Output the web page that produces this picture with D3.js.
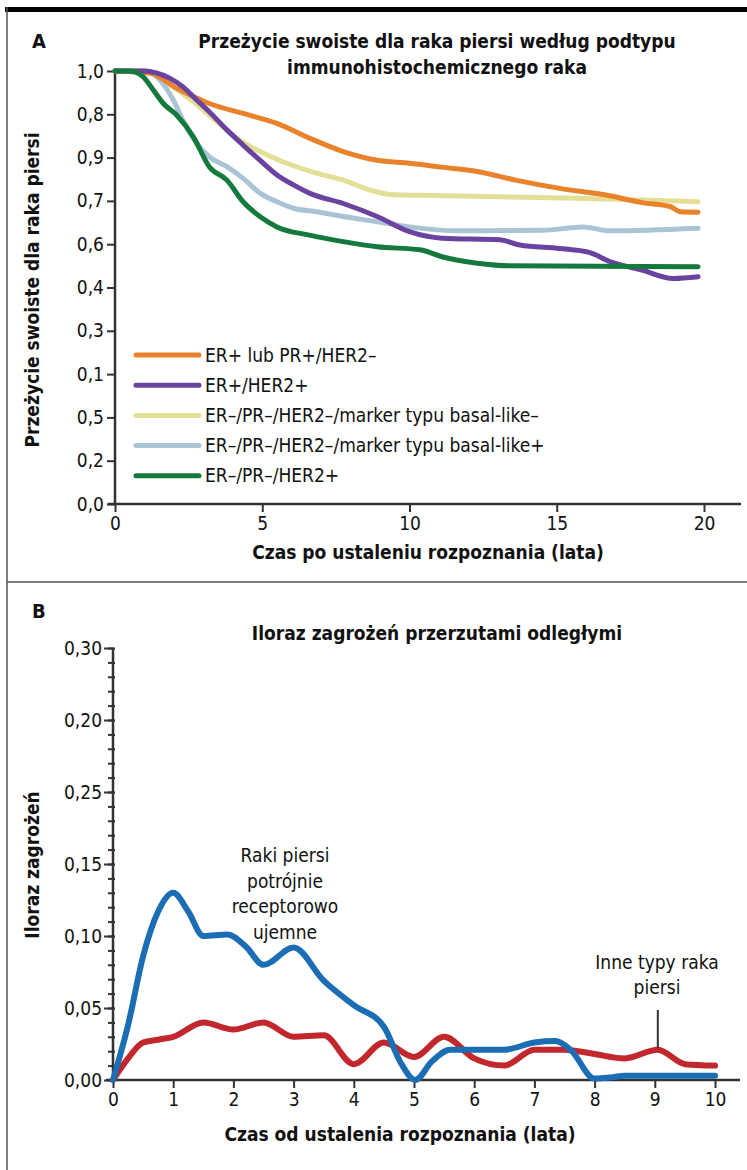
<!DOCTYPE html>
<html>
<head>
<meta charset="utf-8">
<style>
  body { margin: 0; background: #fff; }
  svg text {
    font-family: "Liberation Sans Narrow", "Arial Narrow", "DejaVu Sans Condensed", sans-serif;
    font-stretch: condensed;
    fill: #111;
  }
  .bold { font-weight: bold; }
</style>
</head>
<body>
<script src="https://d3js.org/d3.v7.min.js"></script>
<script>
// ---- Panel A: survival curves (plotted position on the 0..1 axis) ----
const orangeT = [0, 1.2, 2.1, 3.2, 4.35, 5.5, 6.6, 7.75, 8.9, 10.0, 11.1, 12.3, 13.6, 15.1, 16.8, 17.9, 18.85, 19.2, 19.8];
const orangeV = [1.0, 0.995, 0.96, 0.925, 0.902, 0.879, 0.845, 0.814, 0.794, 0.787, 0.778, 0.768, 0.748, 0.729, 0.712, 0.696, 0.687, 0.675, 0.674];

const purpleT = [0, 0.95, 1.87, 2.3, 2.77, 3.2, 3.8, 4.35, 4.92, 5.5, 6.06, 6.6, 7.75, 8.9, 10.0, 11.1, 13.07, 13.75, 15.1, 16.1, 16.8, 17.9, 18.95, 19.8];
const purpleV = [1.0, 1.0, 0.983, 0.964, 0.933, 0.906, 0.864, 0.829, 0.794, 0.760, 0.737, 0.718, 0.694, 0.664, 0.629, 0.614, 0.610, 0.598, 0.590, 0.581, 0.560, 0.540, 0.521, 0.525];

const yellowT = [0, 1.07, 1.87, 2.66, 3.45, 4.13, 4.92, 5.83, 6.85, 7.75, 8.66, 9.45, 10.36, 15.7, 19.8];
const yellowV = [1.0, 1.0, 0.968, 0.929, 0.883, 0.845, 0.814, 0.787, 0.764, 0.748, 0.725, 0.714, 0.713, 0.706, 0.698];

const lightT = [0, 1.07, 1.53, 1.98, 2.3, 2.77, 3.2, 3.8, 4.35, 4.92, 5.5, 6.06, 6.85, 7.75, 8.9, 10.0, 11.7, 14.5, 15.9, 16.8, 19.8];
const lightV = [1.0, 1.0, 0.979, 0.933, 0.887, 0.833, 0.802, 0.779, 0.752, 0.718, 0.698, 0.683, 0.675, 0.664, 0.652, 0.640, 0.631, 0.632, 0.640, 0.631, 0.637];

const greenT = [0, 0.5, 0.95, 1.3, 1.64, 2.1, 2.66, 3.2, 3.8, 4.35, 4.92, 5.5, 6.6, 7.75, 8.9, 10.36, 11.1, 12.3, 13.4, 19.8];
const greenV = [1.0, 1.0, 0.987, 0.956, 0.925, 0.898, 0.848, 0.779, 0.748, 0.698, 0.664, 0.640, 0.621, 0.606, 0.594, 0.587, 0.571, 0.556, 0.550, 0.548];

const legendNames = [
  "ER+ lub PR+/HER2–",
  "ER+/HER2+",
  "ER–/PR–/HER2–/marker typu basal-like–",
  "ER–/PR–/HER2–/marker typu basal-like+",
  "ER–/PR–/HER2+"
];
const colorsA = ["#e8832b", "#6a43a0", "#e3df97", "#a9c5d5", "#13793d"];

// y tick labels as printed in the original (their order is kept as is)
const yTicksA = [0, 0.1, 0.2, 0.3, 0.4, 0.5, 0.6, 0.7, 0.8, 0.9, 1.0];
const yLabelsA = ["0,0", "0,2", "0,5", "0,1", "0,3", "0,4", "0,6", "0,7", "0,9", "0,8", "1,0"];
const xTicksA = [0, 5, 10, 15, 20];

// ---- Panel B: hazard ratio of distant metastases ----
const blueT = [0, 0.25, 0.5, 0.75, 1.0, 1.25, 1.5, 1.9, 2.2, 2.5, 3.0, 3.5, 4.0, 4.5, 4.78, 5.02, 5.3, 5.6, 6.0, 6.5, 7.0, 7.35, 7.6, 8.0, 8.3, 8.5, 10];
const blueV = [0, 0.038, 0.086, 0.117, 0.130, 0.117, 0.100, 0.101, 0.093, 0.080, 0.092, 0.069, 0.052, 0.037, 0.012, 0, 0.013, 0.021, 0.021, 0.021, 0.026, 0.027, 0.021, 0.001, 0.002, 0.003, 0.003];

const redT = [0, 0.25, 0.5, 0.75, 1.0, 1.5, 2.0, 2.5, 3.0, 3.5, 4.0, 4.5, 5.0, 5.5, 6.0, 6.5, 7.0, 7.5, 8.0, 8.5, 9.05, 9.5, 10];
const redV = [0, 0.015, 0.026, 0.028, 0.030, 0.040, 0.035, 0.040, 0.030, 0.031, 0.011, 0.026, 0.016, 0.030, 0.015, 0.010, 0.021, 0.021, 0.018, 0.015, 0.021, 0.011, 0.010];

const yTicksB = [0, 0.05, 0.10, 0.15, 0.20, 0.25, 0.30];
const yLabelsB = ["0,00", "0,05", "0,10", "0,15", "0,25", "0,20", "0,30"];
const xTicksB = [0, 1, 2, 3, 4, 5, 6, 7, 8, 9, 10];

const W = 747, H = 1170;
const svg = d3.select("body").append("svg")
  .attr("width", W)
  .attr("height", H);

// frame: thick top bar, left rule, divider between panels
svg.append("rect").attr("x", 5).attr("y", 7).attr("width", W - 5).attr("height", 5).attr("fill", "#000");
svg.append("line").attr("x1", 7).attr("x2", 7).attr("y1", 7).attr("y2", H)
  .attr("stroke", "#555").attr("stroke-width", 1.5);
svg.append("line").attr("x1", 7).attr("x2", W).attr("y1", 582).attr("y2", 582)
  .attr("stroke", "#555").attr("stroke-width", 1.5);

const axisColor = "#333";

function styleAxis(g) {
  g.select(".domain").remove();
  g.selectAll(".tick line").attr("stroke", axisColor).attr("stroke-width", 2);
  g.selectAll(".tick text").attr("fill", "#111").style("font-size", "19px");
}

// ================= Panel A =================
const xA = d3.scaleLinear().domain([0, 20]).range([115, 704]);
const yA = d3.scaleLinear().domain([0, 1]).range([504, 71]);

svg.append("text").attr("class", "bold").attr("x", 32).attr("y", 48)
  .style("font-size", "20px").text("A");

const titleA = svg.append("text").attr("class", "bold")
  .attr("text-anchor", "middle").style("font-size", "19px");
titleA.append("tspan").attr("x", 437).attr("y", 48).text("Przeżycie swoiste dla raka piersi według podtypu");
titleA.append("tspan").attr("x", 437).attr("y", 74).text("immunohistochemicznego raka");

// axes lines
svg.append("line").attr("x1", 115).attr("x2", 115).attr("y1", yA(1)).attr("y2", 505)
  .attr("stroke", axisColor).attr("stroke-width", 2.5);
svg.append("line").attr("x1", 108).attr("x2", 741).attr("y1", 504).attr("y2", 504)
  .attr("stroke", axisColor).attr("stroke-width", 2.5);

svg.append("g")
  .attr("transform", "translate(115,0)")
  .call(d3.axisLeft(yA).tickValues(yTicksA).tickSize(8).tickPadding(3)
    .tickFormat((d, i) => yLabelsA[i]))
  .call(styleAxis);

svg.append("g")
  .attr("transform", "translate(0,504)")
  .call(d3.axisBottom(xA).tickValues(xTicksA).tickSize(8).tickPadding(5))
  .call(styleAxis);

svg.append("text").attr("class", "bold").attr("text-anchor", "middle")
  .attr("transform", "translate(39,290) rotate(-90)")
  .style("font-size", "19px").text("Przeżycie swoiste dla raka piersi");

svg.append("text").attr("class", "bold").attr("text-anchor", "middle")
  .attr("x", 428).attr("y", 559).style("font-size", "19px")
  .text("Czas po ustaleniu rozpoznania (lata)");

const seriesA = [
  [orangeT, orangeV],
  [purpleT, purpleV],
  [yellowT, yellowV],
  [lightT, lightV],
  [greenT, greenV]
];

const lineA = d3.line().x(d => xA(d[0])).y(d => yA(d[1])).curve(d3.curveMonotoneX);

// draw order: yellow/light under, others on top
[2, 3, 0, 1, 4].forEach(i => {
  const pts = seriesA[i][0].map((t, j) => [t, seriesA[i][1][j]]);
  svg.append("path")
    .datum(pts)
    .attr("d", lineA)
    .attr("fill", "none")
    .attr("stroke", colorsA[i])
    .attr("stroke-width", 5)
    .attr("stroke-linejoin", "round")
    .attr("stroke-linecap", "round");
});

// legend
const legend = svg.append("g");
legendNames.forEach((name, i) => {
  const y = 355 + i * 30.2;
  legend.append("line").attr("x1", 136).attr("x2", 199).attr("y1", y).attr("y2", y)
    .attr("stroke", colorsA[i]).attr("stroke-width", 5).attr("stroke-linecap", "round");
  legend.append("text").attr("x", 205).attr("y", y + 6.5)
    .style("font-size", "19px").text(name);
});

// ================= Panel B =================
const xB = d3.scaleLinear().domain([0, 10]).range([113, 715]);
const yB = d3.scaleLinear().domain([0, 0.30]).range([1080, 648]);

svg.append("text").attr("class", "bold").attr("x", 32).attr("y", 618)
  .style("font-size", "20px").text("B");

svg.append("text").attr("class", "bold").attr("text-anchor", "middle")
  .attr("x", 437).attr("y", 640).style("font-size", "19px")
  .text("Iloraz zagrożeń przerzutami odległymi");

svg.append("line").attr("x1", 113).attr("x2", 113).attr("y1", yB(0.30)).attr("y2", 1081)
  .attr("stroke", axisColor).attr("stroke-width", 2.5);
svg.append("line").attr("x1", 106).attr("x2", 740).attr("y1", 1080).attr("y2", 1080)
  .attr("stroke", axisColor).attr("stroke-width", 2.5);

// minor ticks every 0.01
svg.append("g")
  .attr("transform", "translate(115,0)")
  .call(d3.axisLeft(yB).tickValues(d3.range(0, 0.301, 0.01)).tickSize(7).tickFormat(""))
  .call(styleAxis);

svg.append("g")
  .attr("transform", "translate(114,0)")
  .call(d3.axisLeft(yB).tickValues(yTicksB).tickSize(10).tickPadding(2)
    .tickFormat((d, i) => yLabelsB[i]))
  .call(styleAxis);

svg.append("g")
  .attr("transform", "translate(0,1080)")
  .call(d3.axisBottom(xB).tickValues(xTicksB).tickSize(8).tickPadding(5))
  .call(styleAxis);

svg.append("text").attr("class", "bold").attr("text-anchor", "middle")
  .attr("transform", "translate(39,865) rotate(-90)")
  .style("font-size", "19px").text("Iloraz zagrożeń");

svg.append("text").attr("class", "bold").attr("text-anchor", "middle")
  .attr("x", 400).attr("y", 1141).style("font-size", "19px")
  .text("Czas od ustalenia rozpoznania (lata)");

const lineB = d3.line().x(d => xB(d[0])).y(d => yB(d[1])).curve(d3.curveMonotoneX);

svg.append("path")
  .datum(redT.map((t, j) => [t, redV[j]]))
  .attr("d", lineB).attr("fill", "none")
  .attr("stroke", "#c1272d").attr("stroke-width", 6)
  .attr("stroke-linejoin", "round").attr("stroke-linecap", "round");

svg.append("path")
  .datum(blueT.map((t, j) => [t, blueV[j]]))
  .attr("d", lineB).attr("fill", "none")
  .attr("stroke", "#1b6db4").attr("stroke-width", 6)
  .attr("stroke-linejoin", "round").attr("stroke-linecap", "round");

// annotations
const note1 = ["Raki piersi", "potrójnie", "receptorowo", "ujemne"];
note1.forEach((s, i) => {
  svg.append("text").attr("text-anchor", "middle")
    .attr("x", 285).attr("y", 862 + i * 25.5)
    .style("font-size", "19px").text(s);
});

const note2 = ["Inne typy raka", "piersi"];
note2.forEach((s, i) => {
  svg.append("text").attr("text-anchor", "middle")
    .attr("x", 657).attr("y", 969 + i * 25)
    .style("font-size", "19px").text(s);
});
svg.append("line")
  .attr("x1", xB(9.05)).attr("x2", xB(9.05))
  .attr("y1", 1010).attr("y2", yB(0.021) - 2)
  .attr("stroke", "#333").attr("stroke-width", 2);
</script>
</body>
</html>
